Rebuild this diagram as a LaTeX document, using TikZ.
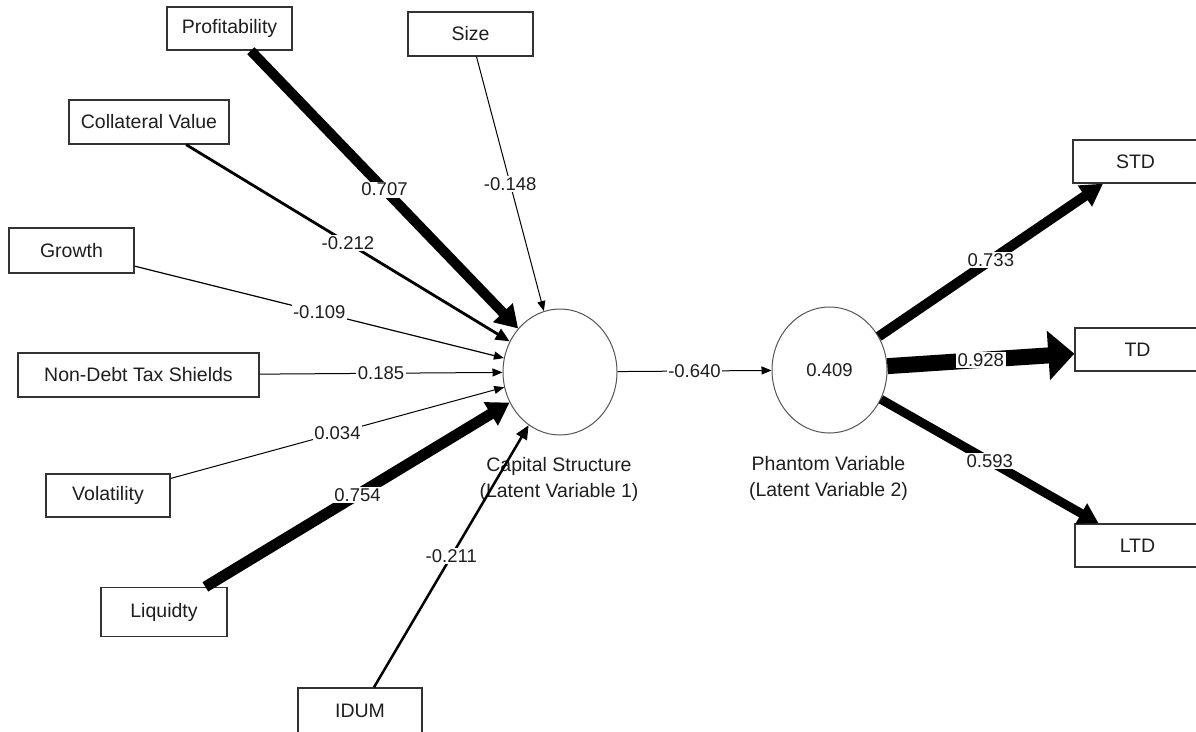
\documentclass[tikz,border=0pt]{standalone}
\usepackage{fontspec}
\setmainfont{Liberation Sans}
\usetikzlibrary{arrows.meta,shapes.geometric}
\definecolor{ink}{HTML}{1E1E1E}
\definecolor{frame}{HTML}{333333}
\definecolor{rim}{HTML}{555555}
\begin{document}
\begin{tikzpicture}[x=1pt,y=-1pt,
  font=\fontsize{19.5}{26}\selectfont,
  ind/.style={draw=frame, line width=1.3pt, fill=white, text=ink,
    minimum height=44pt, inner sep=0pt},
  lv/.style={ellipse, draw=rim, line width=1pt, fill=white, text=ink,
    minimum width=114pt, minimum height=126pt, inner sep=0pt},
  coef/.style={fill=white, inner sep=1.5pt, text=ink,
    font=\fontsize{18.5}{22}\selectfont},
  thin/.style={line width=1pt, -{Triangle[length=10pt,width=8pt]}},
  mid/.style={line width=2.8pt, -{Triangle[length=14pt,width=12pt]}},
  heavy/.style={line width=10pt, -{Triangle[length=22pt,width=26pt]}}]
\useasboundingbox (0,0) rectangle (1196,731);
\clip (0,0) rectangle (1196,731);

% indicator boxes
\node[ind, minimum width=125pt, minimum height=43pt] (prof) at (229.5,28.5) {Profitability};
\node[ind, minimum width=125pt] (size) at (470.5,34) {Size};
\node[ind, minimum width=160pt] (coll) at (149,122) {Collateral Value};
\node[ind, minimum width=125pt, minimum height=45pt] (grow) at (71.5,250.5) {Growth};
\node[ind, minimum width=241pt] (ndts) at (138.5,375) {Non-Debt Tax Shields};
\node[ind, minimum width=124pt, minimum height=43pt] (vola) at (108,495.5) {Volatility};
\node[ind, minimum width=126pt, minimum height=49pt] (liq) at (164,612) {Liquidty};
\node[ind, minimum width=124pt, minimum height=46pt] (idum) at (360,711) {IDUM};
\node[ind, minimum width=125pt, minimum height=43pt] (std) at (1135.5,161.5) {STD};
\node[ind, minimum width=125pt, minimum height=43pt] (td) at (1137.5,349.5) {TD};
\node[ind, minimum width=125pt, minimum height=43pt] (ltd) at (1137.5,545.5) {LTD};

% latent variables
\node[lv] (cs) at (560,372) {};
\node[lv, minimum width=115pt, font=\fontsize{18.5}{22}\selectfont] (pv) at (829.5,370) {0.409};
\node[text=ink, align=center] (csl) at (559,479) {Capital Structure\\(Latent Variable 1)};
\node[text=ink, align=center] (pvl) at (828.5,478) {Phantom Variable\\(Latent Variable 2)};

% paths into the capital structure construct
\draw[heavy] (prof) -- node[coef]{0.707} (cs);
\draw[thin] (size) -- node[coef]{-0.148} (cs);
\draw[mid] (coll) -- node[coef]{-0.212} (cs);
\draw[thin, line width=1.2pt] (grow) -- node[coef]{-0.109} (cs);
\draw[thin] (ndts) -- node[coef]{0.185} (cs);
\draw[thin] (vola) -- node[coef]{0.034} (cs);
\draw[heavy, line width=11pt] (liq) -- node[coef]{0.754} (cs);
\draw[mid, line width=2.5pt] (idum) -- node[coef]{-0.211} (cs);

% structural path
\draw[thin] (cs) -- node[coef]{-0.640} (pv);

% outer loadings
\draw[line width=10pt, -{Triangle[length=22pt,width=24pt]}] (pv) -- node[coef]{0.733} (std);
\draw[line width=16pt, -{Triangle[length=26pt,width=48pt]}] (pv) -- node[coef]{0.928} (td);
\draw[line width=9pt, -{Triangle[length=20pt,width=22pt]}] (pv) -- node[coef]{0.593} (ltd);
\end{tikzpicture}
\end{document}
